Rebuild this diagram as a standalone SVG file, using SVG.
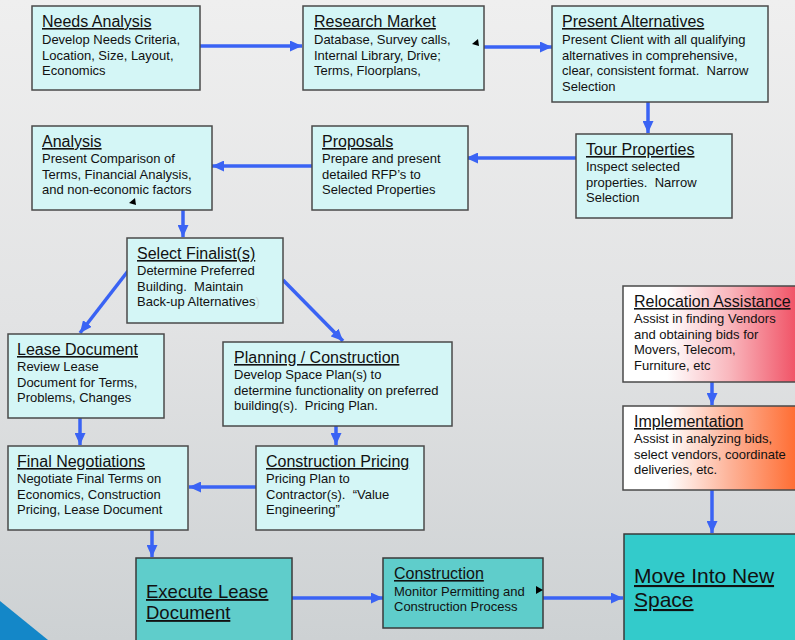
<svg xmlns="http://www.w3.org/2000/svg" width="795" height="640" viewBox="0 0 795 640">
<defs>
<linearGradient id="bg" x1="0" y1="0" x2="0" y2="1">
<stop offset="0" stop-color="#EFEFEF"/>
<stop offset="0.5" stop-color="#E2E3E4"/>
<stop offset="1" stop-color="#CDD1D3"/>
</linearGradient>
<linearGradient id="gRed" x1="0" y1="0" x2="1" y2="0">
<stop offset="0" stop-color="#FFFFFF"/>
<stop offset="0.25" stop-color="#FFFFFF"/>
<stop offset="0.6" stop-color="#F9B8BE"/>
<stop offset="1" stop-color="#F04F63"/>
</linearGradient>
<linearGradient id="gOrange" x1="0" y1="0" x2="1" y2="0">
<stop offset="0" stop-color="#FFFFFF"/>
<stop offset="0.25" stop-color="#FFFFFF"/>
<stop offset="0.6" stop-color="#FDB49A"/>
<stop offset="1" stop-color="#FF6A2E"/>
</linearGradient>
<marker id="ah" markerUnits="userSpaceOnUse" markerWidth="12" markerHeight="11" viewBox="0 0 12 11" refX="12" refY="5.5" orient="auto">
<path d="M0,0 L12,5.5 L0,11 z" fill="#3A63F4"/>
</marker>
<style>
text{white-space:pre}
.box{fill:#D4F6F6;stroke:#4A4A4A;stroke-width:1.5}
.teal{fill:#5FCDCB;stroke:#3A3A3A;stroke-width:1.5}
.move{fill:#33CBCB;stroke:#3A3A3A;stroke-width:1.5}
.grad{stroke:#4A4A4A;stroke-width:1.5}
.t{font-family:"Liberation Sans",Arial,sans-serif;font-size:16px;fill:#111;text-decoration:underline}
.b{font-family:"Liberation Sans",Arial,sans-serif;font-size:13px;fill:#111}
.big{font-family:"Liberation Sans",Arial,sans-serif;font-size:18.5px;fill:#111;text-decoration:underline}
.huge{font-family:"Liberation Sans",Arial,sans-serif;font-size:21px;fill:#111;text-decoration:underline}
.c{stroke:#3A63F4;stroke-width:3.5;fill:none;marker-end:url(#ah)}
</style>
</defs>
<rect x="0" y="0" width="795" height="640" fill="url(#bg)"/>
<polygon points="0,601 48,640 0,640" fill="#1487C8"/>

<g id="connectors">
<line class="c" x1="200" y1="46" x2="302" y2="46"/>
<line class="c" x1="484" y1="47" x2="552" y2="47"/>
<line class="c" x1="648" y1="102" x2="648" y2="133"/>
<line class="c" x1="576" y1="158" x2="466" y2="158"/>
<line class="c" x1="312" y1="166" x2="212" y2="166"/>
<line class="c" x1="183" y1="210" x2="183" y2="237"/>
<line class="c" x1="128" y1="271" x2="80" y2="333"/>
<line class="c" x1="283" y1="280" x2="343" y2="341"/>
<line class="c" x1="80" y1="418" x2="80" y2="445"/>
<line class="c" x1="336" y1="426" x2="336" y2="445"/>
<line class="c" x1="256" y1="487" x2="189" y2="487"/>
<line class="c" x1="152" y1="530" x2="152" y2="557"/>
<line class="c" x1="292" y1="598" x2="383" y2="598"/>
<line class="c" x1="543" y1="598" x2="623" y2="598"/>
<line class="c" x1="712" y1="382" x2="712" y2="405"/>
<line class="c" x1="712" y1="490" x2="712" y2="533"/>
</g>

<g id="needs-analysis">
<rect class="box" x="32" y="6" width="168" height="84"/>
<text class="t" x="42" y="27">Needs Analysis</text>
<text class="b" x="42" y="44">Develop Needs Criteria,</text>
<text class="b" x="42" y="59.5">Location, Size, Layout,</text>
<text class="b" x="42" y="75">Economics</text>
</g>

<g id="research-market">
<rect class="box" x="303" y="6" width="181" height="84"/>
<text class="t" x="314" y="27">Research Market</text>
<text class="b" x="314" y="44">Database, Survey calls,</text>
<text class="b" x="314" y="59.5">Internal Library, Drive;</text>
<text class="b" x="314" y="75">Terms, Floorplans,</text>
<polygon points="472,44 478,39 479,46" fill="#000"/>
</g>

<g id="present-alternatives">
<rect class="box" x="552" y="6" width="216" height="96"/>
<text class="t" x="562" y="27">Present Alternatives</text>
<text class="b" x="562" y="44">Present Client with all qualifying</text>
<text class="b" x="562" y="59.5">alternatives in comprehensive,</text>
<text class="b" x="562" y="75">clear, consistent format.  Narrow</text>
<text class="b" x="562" y="90.5">Selection</text>
</g>

<g id="tour-properties">
<rect class="box" x="576" y="134" width="156" height="84"/>
<text class="t" x="586" y="155">Tour Properties</text>
<text class="b" x="586" y="171">Inspect selected</text>
<text class="b" x="586" y="186.5">properties.  Narrow</text>
<text class="b" x="586" y="202">Selection</text>
</g>

<g id="proposals">
<rect class="box" x="312" y="126" width="156" height="84"/>
<text class="t" x="322" y="147">Proposals</text>
<text class="b" x="322" y="163">Prepare and present</text>
<text class="b" x="322" y="178.5">detailed RFP’s to</text>
<text class="b" x="322" y="194">Selected Properties</text>
</g>

<g id="analysis">
<rect class="box" x="32" y="126" width="180" height="84"/>
<text class="t" x="42" y="147">Analysis</text>
<text class="b" x="42" y="163">Present Comparison of</text>
<text class="b" x="42" y="178.5">Terms, Financial Analysis,</text>
<text class="b" x="42" y="194">and non-economic factors</text>
<polygon points="129,203 135,198 136,205" fill="#000"/>
</g>

<g id="select-finalists">
<rect class="box" x="127" y="238" width="156" height="85"/>
<text class="t" x="137" y="259">Select Finalist(s)</text>
<text class="b" x="137" y="275">Determine Preferred</text>
<text class="b" x="137" y="290.5">Building.  Maintain</text>
<text class="b" x="137" y="306">Back-up Alternatives<tspan fill="#C8D8D8">)</tspan></text>
</g>

<g id="lease-document">
<rect class="box" x="8" y="334" width="156" height="84"/>
<text class="t" x="17" y="355">Lease Document</text>
<text class="b" x="17" y="371">Review Lease</text>
<text class="b" x="17" y="386.5">Document for Terms,</text>
<text class="b" x="17" y="402">Problems, Changes</text>
</g>

<g id="planning-construction">
<rect class="box" x="223" y="342" width="229" height="84"/>
<text class="t" x="234" y="363">Planning / Construction</text>
<text class="b" x="234" y="379">Develop Space Plan(s) to</text>
<text class="b" x="234" y="394.5">determine functionality on preferred</text>
<text class="b" x="234" y="410">building(s).  Pricing Plan.</text>
</g>

<g id="construction-pricing">
<rect class="box" x="256" y="446" width="168" height="84"/>
<text class="t" x="266" y="467">Construction Pricing</text>
<text class="b" x="266" y="483">Pricing Plan to</text>
<text class="b" x="266" y="498.5">Contractor(s).  “Value</text>
<text class="b" x="266" y="514">Engineering”</text>
</g>

<g id="final-negotiations">
<rect class="box" x="8" y="446" width="180" height="84"/>
<text class="t" x="17" y="467">Final Negotiations</text>
<text class="b" x="17" y="483">Negotiate Final Terms on</text>
<text class="b" x="17" y="498.5">Economics, Construction</text>
<text class="b" x="17" y="514">Pricing, Lease Document</text>
</g>

<g id="execute-lease-document">
<rect class="teal" x="136" y="558" width="156" height="90"/>
<text class="big" x="146" y="598">Execute Lease</text>
<text class="big" x="146" y="619">Document</text>
</g>

<g id="construction">
<rect class="teal" x="383" y="558" width="160" height="70"/>
<text class="t" x="394" y="579">Construction</text>
<text class="b" x="394" y="596">Monitor Permitting and</text>
<text class="b" x="394" y="611">Construction Process</text>
<polygon points="536,586 543,590 536,594" fill="#000"/>
</g>

<g id="move-into-new-space">
<rect class="move" x="624" y="534" width="180" height="120"/>
<text class="huge" x="634" y="583">Move Into New</text>
<text class="huge" x="634" y="607">Space</text>
</g>

<g id="relocation-assistance">
<rect class="grad" fill="url(#gRed)" x="623" y="286" width="176" height="96"/>
<text class="t" x="634" y="307">Relocation Assistance</text>
<text class="b" x="634" y="323">Assist in finding Vendors</text>
<text class="b" x="634" y="338.5">and obtaining bids for</text>
<text class="b" x="634" y="354">Movers, Telecom,</text>
<text class="b" x="634" y="369.5">Furniture, etc</text>
</g>

<g id="implementation">
<rect class="grad" fill="url(#gOrange)" x="623" y="406" width="176" height="84"/>
<text class="t" x="634" y="427">Implementation</text>
<text class="b" x="634" y="443">Assist in analyzing bids,</text>
<text class="b" x="634" y="458.5">select vendors, coordinate</text>
<text class="b" x="634" y="474">deliveries, etc.</text>
</g>
</svg>
